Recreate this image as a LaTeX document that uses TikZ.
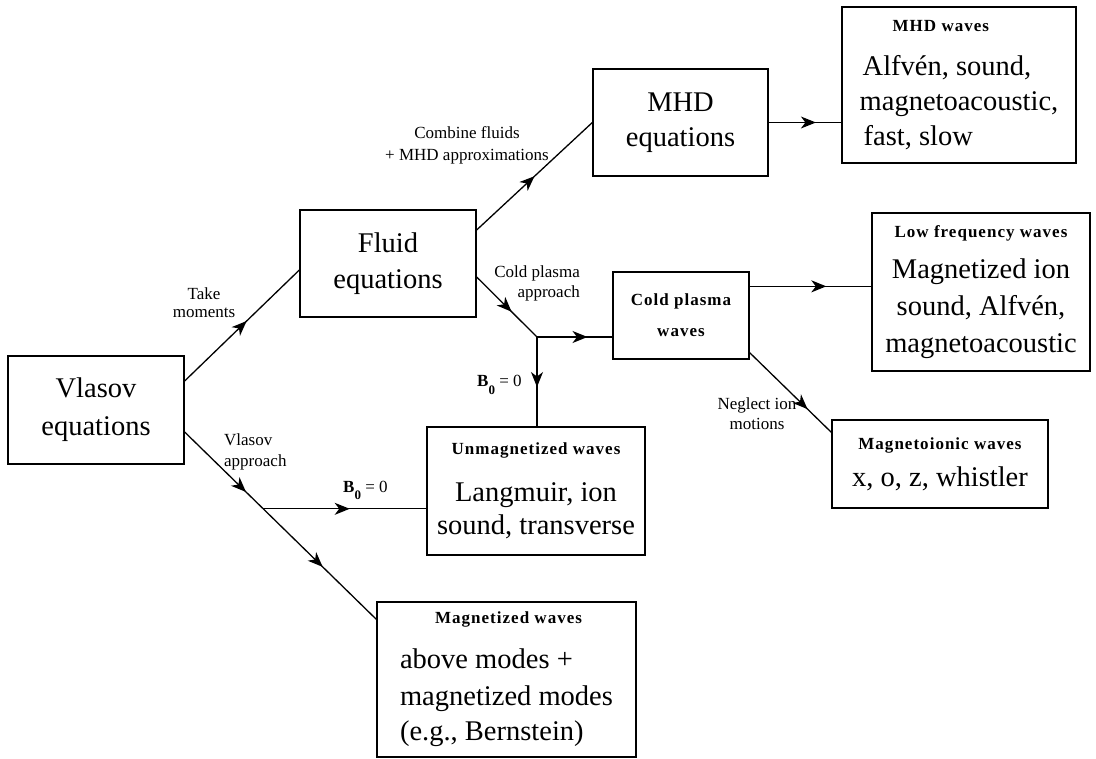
\documentclass[tikz,border=0pt]{standalone}
\usepackage{fontspec}
\setmainfont{Liberation Serif}
\usetikzlibrary{arrows.meta,decorations.markings,calc}

\newcommand{\wavetitle}[1]{{\fontsize{17}{19}\selectfont\bfseries\addfontfeatures{LetterSpace=6}#1}}
\newcommand{\Bzero}{{\bfseries B\raisebox{-8pt}{\fontsize{13}{13}\selectfont 0}}~= 0}

\tikzset{
    box/.style={draw, line width=1.3pt, inner sep=0pt, align=center,
        font=\fontsize{28.5}{36}\selectfont},
    note/.style={inner sep=0pt, align=center, font=\fontsize{17}{20}\selectfont},
    cond/.style={inner sep=0pt, font=\fontsize{17}{20}\selectfont},
    link/.style={line width=1.3pt},
    midtip/.style={postaction={decorate, decoration={markings,
        mark=at position #1 with {\arrow{Stealth[length=15pt, width=12pt, inset=4.5pt]}}}}},
}

\begin{document}
\begin{tikzpicture}[x=1pt, y=-1pt]
    \fill[white] (0,0) rectangle (1096,759);
    \useasboundingbox (0,0) rectangle (1096,759);

    % boxes
    \node[box, minimum width=176pt, minimum height=108pt] (vlasov) at (96,410) {Vlasov\\[2pt]equations};
    \node[box, minimum width=176pt, minimum height=107pt] (fluid) at (388,263.5) {Fluid\\equations};
    \node[box, minimum width=175pt, minimum height=107pt] (mhd) at (680.5,122.5) {MHD\\[-1pt]equations};
    \node[box, align=left, minimum width=234pt, minimum height=156pt] (mhdwaves) at (959,85)
        {\hspace*{33pt}\wavetitle{MHD waves}\\[8pt]\hspace*{3pt}Alfvén, sound,\\[-1pt]magnetoacoustic,\\[-1pt]\hspace*{4pt}fast, slow};
    \node[box, minimum width=136pt, minimum height=87pt] (cold) at (681,315.5)
        {\wavetitle{Cold plasma}\\[-5pt]\wavetitle{waves}};
    \node[box, minimum width=218pt, minimum height=158pt] (lowfreq) at (981,292)
        {\wavetitle{Low frequency waves}\\[5pt]Magnetized ion\\[1pt]sound, Alfvén,\\[1pt]magnetoacoustic};
    \node[box, minimum width=216pt, minimum height=88pt] (magion) at (940,464)
        {\wavetitle{Magnetoionic waves}\\[1pt]x, o, z, whistler};
    \node[box, minimum width=218pt, minimum height=128pt] (unmag) at (536,491)
        {\wavetitle{Unmagnetized waves}\\[11pt]Langmuir, ion\\[-3pt]sound, transverse};
    \node[box, align=left, minimum width=259pt, minimum height=155pt] (magwaves) at (506.5,679.5)
        {\hspace*{35pt}\wavetitle{Magnetized waves}\\[9pt]above modes +\\[1pt]magnetized modes\\[-1pt](e.g., Bernstein)};

    % labels
    \node[note] (takemom) at (204,302.5) {Take\\[-2pt]moments};
    \node[note] (combine) at (467,145) {Combine fluids\\[2pt]+ MHD approximations};
    \node[note, align=right, anchor=east] (coldappr) at (580,283) {Cold plasma\\approach};
    \node[note, align=left, anchor=west] (vlasappr) at (224,451.6) {Vlasov\\[1pt]approach};
    \node[note] (neglect) at (757,414) {Neglect ion\\motions};
    \node[cond, anchor=base west] (bcold) at (477,387) {\Bzero};
    \node[cond, anchor=base west] (bkin) at (343,492) {\Bzero};

    % connectors
    \coordinate (coldfork) at (537,337);
    \coordinate (coldtop) at ([yshift=-15pt]cold.north east);
    \coordinate (kinstart) at ([yshift=-22pt]vlasov.east);
    \coordinate (kinend) at ([yshift=-18pt]magwaves.north west);
    \coordinate (kinfork) at ($(kinstart)!0.41!(kinend)$);

    \draw[link, midtip=0.54] ([yshift=29pt]vlasov.east) -- ([yshift=-6.5pt]fluid.west);
    \draw[link, midtip=0.5] ([yshift=33.5pt]fluid.east) -- (mhd.west);
    \draw[link, midtip=0.65] (mhd.east) -- (mhd.east -| mhdwaves.west);
    \draw[link, midtip=0.58] ([yshift=-13.5pt]fluid.east) -- (coldfork);
    \draw[link, midtip=0.67] (coldfork) -- (coldfork -| cold.west);
    \draw[link, midtip=0.56] (coldfork) -- (coldfork |- unmag.north);
    \draw[link, midtip=0.63] (coldtop) -- (coldtop -| lowfreq.west);
    \draw[link, midtip=0.71] ([yshift=7pt]cold.south east) -- ([yshift=-13pt]magion.north west);
    \draw[link, midtip=0.32, midtip=0.72] (kinstart) -- (kinend);
    \draw[link, midtip=0.53] (kinfork) -- (kinfork -| unmag.west);
\end{tikzpicture}
\end{document}
